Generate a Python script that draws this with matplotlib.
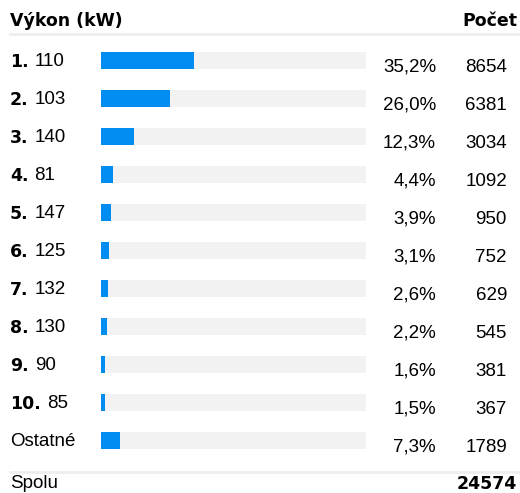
import matplotlib.pyplot as plt

ranks = ['1.', '2.', '3.', '4.', '5.', '6.', '7.', '8.', '9.', '10.', '']
labels = ['110', '103', '140', '81', '147', '125', '132', '130', '90', '85', 'Ostatné']
shares = [35.2, 26.0, 12.3, 4.4, 3.9, 3.1, 2.6, 2.2, 1.6, 1.5, 7.3]
counts = [8654, 6381, 3034, 1092, 950, 752, 629, 545, 381, 367, 1789]
total = 24574

W, H = 520, 493
fig = plt.figure(figsize=(W / 100, H / 100), dpi=100)
ax = fig.add_axes([0, 0, 1, 1])
ax.set_xlim(0, W)
ax.set_ylim(H, 0)
ax.axis('off')

reg = 'Liberation Sans'
bold = 'DejaVu Sans'
blue = '#008cf0'
track = '#f2f2f2'
fs = 13.5

x0, x1 = 101, 366
scale = (x1 - x0) / 100.0
y_first, step, bh = 60.5, 38, 17

ys = [y_first + i * step for i in range(len(labels))]

ax.barh(ys, [x1 - x0] * len(ys), left=x0, height=bh, color=track)
ax.barh(ys, [s * scale for s in shares], left=x0, height=bh, color=blue)

fig.canvas.draw()
r = fig.canvas.get_renderer()
for y, rk, lab, s, c in zip(ys, ranks, labels, shares, counts):
    if rk:
        t = ax.text(10, y + 1.5, rk, fontsize=12.5, fontweight='bold', family=bold,
                    va='center', ha='left')
        bb = t.get_window_extent(r)
        ax.text(bb.x1 + 6, H - (y + 1.5), lab, fontsize=fs, family=reg,
                va='center', ha='left', transform=None)
    else:
        ax.text(10, y + 1.5, lab, fontsize=fs, family=reg, va='center', ha='left')
    ax.text(436, y + 6.5, f'{s:.1f}%'.replace('.', ','), fontsize=fs, family=reg,
            va='center', ha='right')
    ax.text(507, y + 6.5, str(c), fontsize=fs, family=reg, va='center', ha='right')

ax.text(10, 21, 'Výkon (kW)', fontsize=12.5, fontweight='bold', family=bold,
        va='center', ha='left')
ax.text(517, 21, 'Počet', fontsize=12.5, fontweight='bold', family=bold,
        va='center', ha='right')
ax.plot([10, W], [34, 34], color='#eeeeee', lw=2)
ax.plot([10, W], [471.5, 471.5], color='#eeeeee', lw=2)
ax.text(10, 484, 'Spolu', fontsize=fs, family=reg, va='center', ha='left')
ax.text(517, 484, str(total), fontsize=12.5, fontweight='bold', family=bold,
        va='center', ha='right')

fig.savefig('out.png', dpi=100)
